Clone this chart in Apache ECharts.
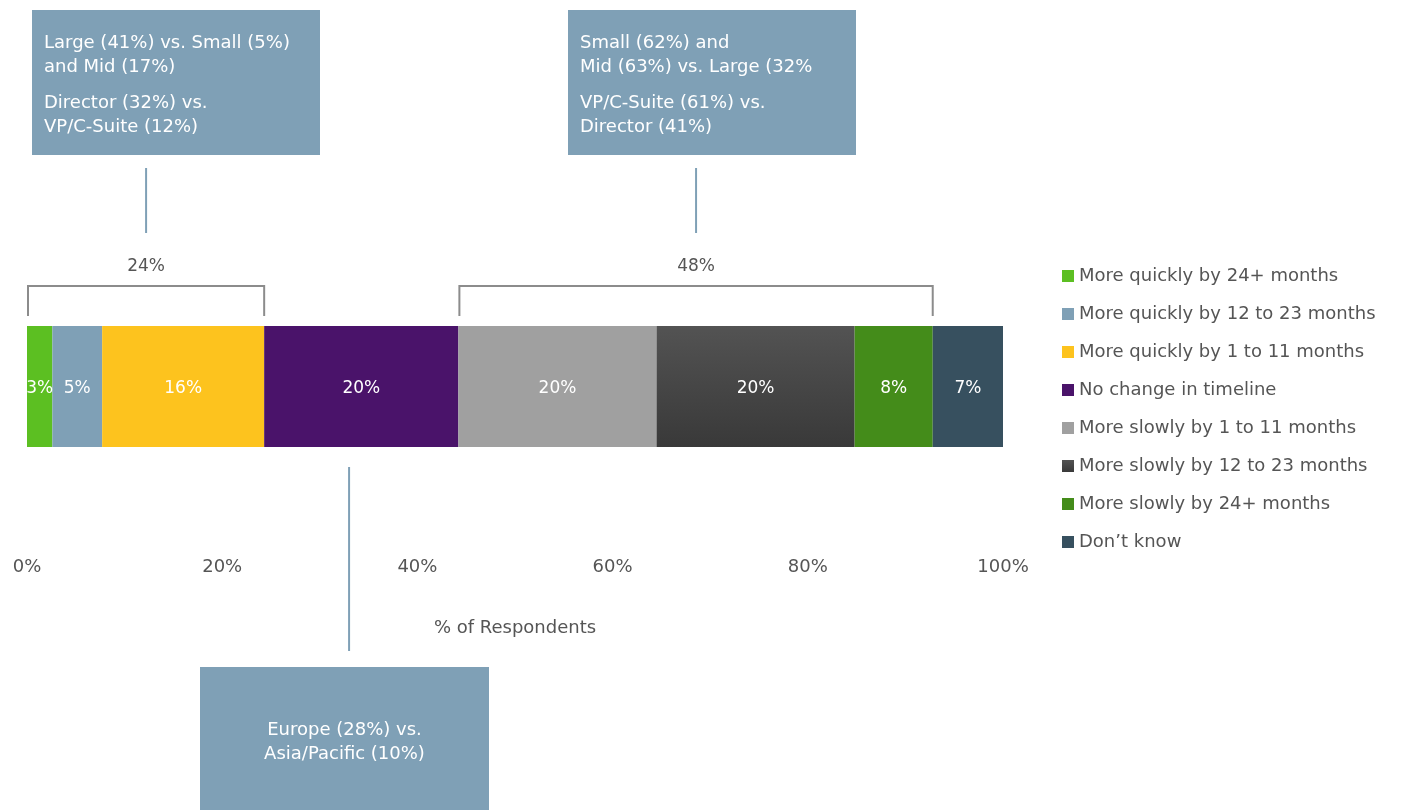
<!DOCTYPE html>
<html><head><meta charset="utf-8">
<script src="https://cdn.jsdelivr.net/npm/echarts@6/dist/echarts.min.js"></script>
<style>html,body{margin:0;padding:0;background:#fff}#c{width:1416px;height:810px}</style>
</head><body><div id="c"></div>
<script>
// ---- data ----
const categories = ['All respondents'];
const seriesNames = [
  'More quickly by 24+ months',
  'More quickly by 12 to 23 months',
  'More quickly by 1 to 11 months',
  'No change in timeline',
  'More slowly by 1 to 11 months',
  'More slowly by 12 to 23 months',
  'More slowly by 24+ months',
  "Don\u2019t know"
];
const seriesValues = [2.6, 5.1, 16.6, 19.9, 20.3, 20.3, 8.0, 7.2];
const seriesLabels = ['3%', '5%', '16%', '20%', '20%', '20%', '8%', '7%'];
const xTickValues = [0, 20, 40, 60, 80, 100];
const xAxisName = '% of Respondents';
// brackets: first and last series index grouped
const bracketFrom = [0, 4];
const bracketTo = [2, 6];
const bracketLabels = ['24%', '48%'];
const callout1 = ['Large (41%) vs. Small (5%)\nand Mid (17%)', 'Director (32%) vs.\nVP/C-Suite (12%)'];
const callout2 = ['Small (62%) and\nMid (63%) vs. Large (32%', 'VP/C-Suite (61%) vs.\nDirector (41%)'];
const callout3 = ['Europe (28%) vs.\nAsia/Pacific (10%)'];
const callout3Value = 33;

// ---- styles ----
const FONT = '"DejaVu Sans", sans-serif';
const TXT = '#555555';
const BOX = '#7fa0b6';
const colors = [
  '#5cbf22', '#7fa0b6', '#fdc31e', '#4a136a', '#a0a0a0',
  new echarts.graphic.LinearGradient(0, 0, 0, 1, [{offset: 0, color: '#535353'}, {offset: 1, color: '#393939'}]),
  '#448c1a', '#37505f'
];

const chart = echarts.init(document.getElementById('c'), null, {renderer: 'canvas'});

const series = seriesNames.map((n, i) => ({
  name: n,
  type: 'bar',
  stack: 'total',
  barWidth: 121,
  data: [seriesValues[i]],
  itemStyle: {color: colors[i]},
  label: {
    show: true, position: 'inside', color: '#ffffff',
    fontFamily: FONT, fontSize: 17, offset: [0, 2],
    formatter: () => seriesLabels[i]
  },
  emphasis: {disabled: true}
}));

chart.setOption({
  animation: false,
  textStyle: {fontFamily: FONT},
  grid: {left: 27, right: 413, top: 326, bottom: 363, containLabel: false},
  xAxis: {
    type: 'value', min: xTickValues[0], max: xTickValues[xTickValues.length - 1], interval: 20,
    axisLine: {show: false}, axisTick: {show: false}, splitLine: {show: false},
    axisLabel: {formatter: '{value}%', color: TXT, fontSize: 18, fontFamily: FONT, margin: 111},
    name: xAxisName, nameLocation: 'middle', nameGap: 172,
    nameTextStyle: {color: TXT, fontSize: 18, fontFamily: FONT}
  },
  yAxis: {type: 'category', data: categories, show: false},
  legend: {
    orient: 'vertical', left: 1057, top: 261,
    itemWidth: 12, itemHeight: 12, itemGap: 18, icon: 'rect',
    textStyle: {color: TXT, fontSize: 18, fontFamily: FONT, lineHeight: 20},
    data: seriesNames, selectedMode: false
  },
  series: series
});

// ---- annotations computed from data via scales ----
function cum(idx) { let s = 0; for (let i = 0; i < idx; i++) s += seriesValues[i]; return s; }
function px(v) { return chart.convertToPixel({gridIndex: 0}, [v, 0])[0]; }

const g = [];
bracketFrom.forEach((f, k) => {
  const x1 = px(cum(f)) + 1, x2 = px(cum(bracketTo[k] + 1));
  g.push({type: 'polyline', shape: {points: [[x1, 316], [x1, 286], [x2, 286], [x2, 316]]},
    style: {stroke: '#8c8c8c', lineWidth: 2, fill: null}, silent: true});
  const cx = (x1 + x2) / 2;
  g.push({type: 'text', x: cx, y: 267, style: {text: bracketLabels[k], fill: TXT, font: '17px ' + FONT, textAlign: 'center', textVerticalAlign: 'middle'}});
  g.push({type: 'line', shape: {x1: cx, y1: 168, x2: cx, y2: 233}, style: {stroke: BOX, lineWidth: 2}});
});
const c3x = px(callout3Value);
g.push({type: 'line', shape: {x1: c3x, y1: 467, x2: c3x, y2: 651}, style: {stroke: BOX, lineWidth: 2}});

function box(x, y, w, h) { g.push({type: 'rect', shape: {x, y, width: w, height: h}, style: {fill: BOX}, silent: true}); }
function txt(x, y, t, align) {
  g.push({type: 'text', x, y, style: {text: t, fill: '#ffffff', font: '18px ' + FONT, lineHeight: 24,
    textAlign: align || 'left', textVerticalAlign: 'middle'}});
}
box(32, 10, 288, 145);
txt(44, 55, callout1[0]); txt(44, 115, callout1[1]);
box(568, 10, 288, 145);
txt(580, 55, callout2[0]); txt(580, 115, callout2[1]);
box(200, 667, 289, 143);
txt(344.5, 742.5, callout3[0], 'center');

chart.setOption({graphic: {elements: g}});
</script></body></html>
